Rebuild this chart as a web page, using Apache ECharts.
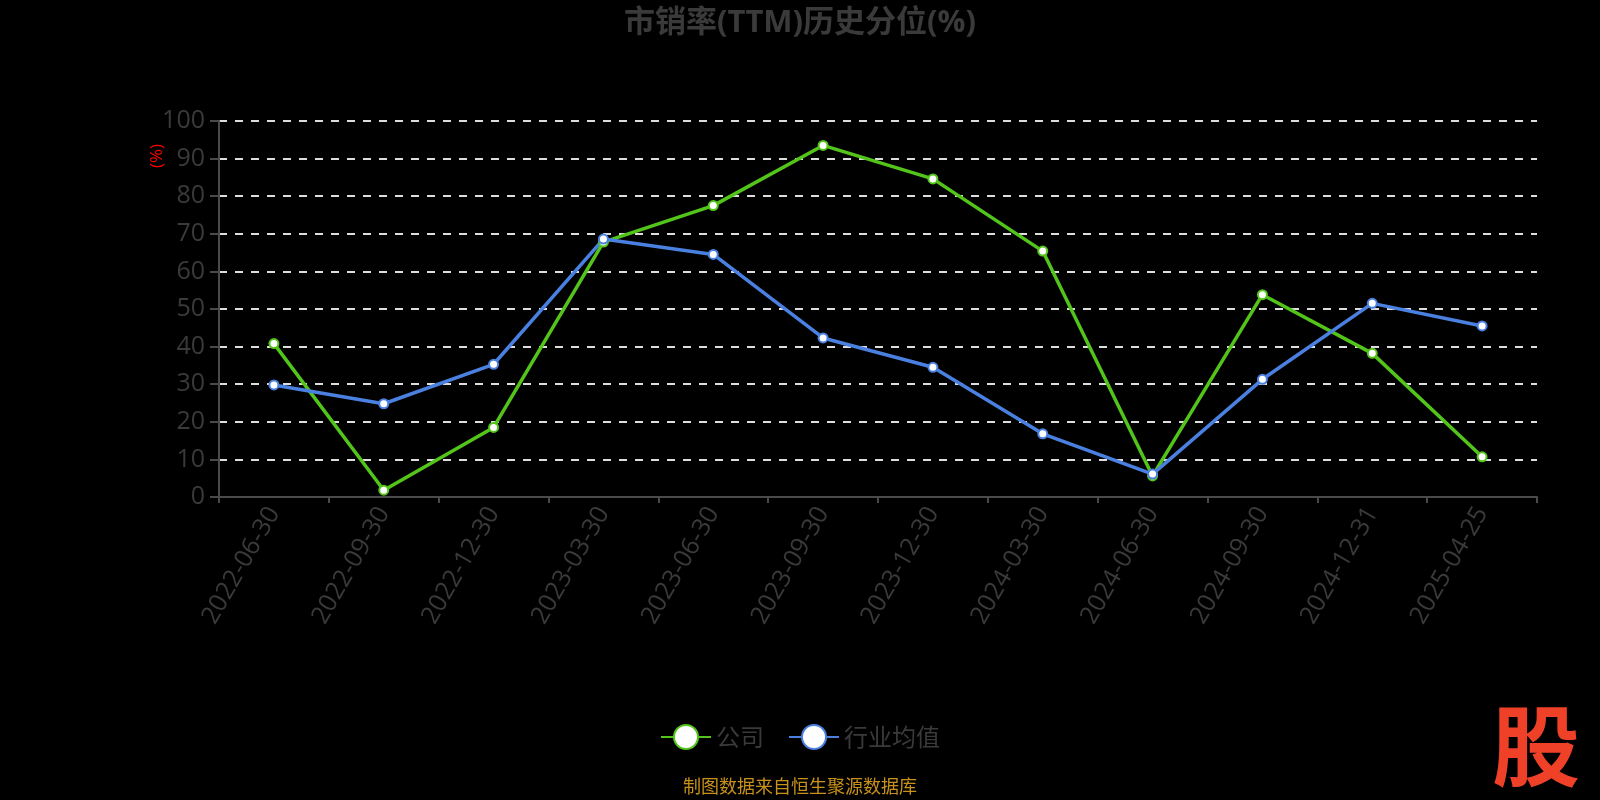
<!DOCTYPE html>
<html>
<head>
<meta charset="utf-8">
<script src="https://cdn.jsdelivr.net/npm/echarts@6/dist/echarts.min.js"></script>
<style>
html,body{margin:0;padding:0;background:#000;}
#main{width:1600px;height:800px;}
</style>
</head>
<body>
<div id="main"></div>
<script>
const categories = ['2022-06-30','2022-09-30','2022-12-30','2023-03-30','2023-06-30','2023-09-30','2023-12-30','2024-03-30','2024-06-30','2024-09-30','2024-12-31','2025-04-25'];
const companyValues = [40.8, 1.8, 18.5, 67.8, 77.5, 93.5, 84.6, 65.4, 5.6, 53.8, 38.2, 10.7];
const industryValues = [29.8, 24.8, 35.3, 68.6, 64.5, 42.3, 34.5, 16.8, 6.1, 31.3, 51.5, 45.5];
const yTicks = [0, 100, 10];
const titleText = '市销率(TTM)历史分位(%)';
const seriesNames = ['公司', '行业均值'];
const sourceText = '制图数据来自恒生聚源数据库';

const font = '"Open Sans", "Noto Sans CJK SC", sans-serif';
const cjk = '"Noto Sans CJK SC", sans-serif';
const chart = echarts.init(document.getElementById('main'));
chart.setOption({
  backgroundColor: '#000',
  animation: false,
  title: {
    text: titleText, left: 'center', top: 3,
    textStyle: {color: '#3a3a3a', fontSize: 31, fontWeight: 'bold', fontFamily: font}
  },
  legend: {
    bottom: 45, left: 'center',
    itemWidth: 50, itemHeight: 30, itemGap: 24,
    textStyle: {color: '#3a3a3a', fontSize: 24, fontFamily: cjk},
    data: seriesNames
  },
  grid: {left: 219, right: 63, top: 121, bottom: 303, containLabel: false},
  xAxis: {
    type: 'category', data: categories, boundaryGap: true,
    axisLine: {lineStyle: {color: '#4a4a4a', width: 2}},
    axisTick: {show: true, length: 6, lineStyle: {color: '#4a4a4a', width: 2}},
    axisLabel: {rotate: 60, color: '#3a3a3a', fontSize: 25, margin: 12, fontFamily: font}
  },
  yAxis: {
    type: 'value', min: yTicks[0], max: yTicks[1], interval: yTicks[2],
    axisLine: {show: true, lineStyle: {color: '#4a4a4a', width: 2}},
    axisTick: {show: true, length: 9, lineStyle: {color: '#4a4a4a', width: 2}},
    axisLabel: {color: '#3a3a3a', fontSize: 25, margin: 14, fontFamily: font},
    splitLine: {show: true, lineStyle: {color: '#dddddd', width: 2, type: [8, 8]}}
  },
  series: [
    {
      name: seriesNames[0], type: 'line', data: companyValues,
      symbol: 'circle', symbolSize: 9,
      lineStyle: {color: '#52c41a', width: 3.5},
      itemStyle: {color: '#ffffff', borderColor: '#52c41a', borderWidth: 2}
    },
    {
      name: seriesNames[1], type: 'line', data: industryValues,
      symbol: 'circle', symbolSize: 9,
      lineStyle: {color: '#4a80e0', width: 3.5},
      itemStyle: {color: '#ffffff', borderColor: '#4a80e0', borderWidth: 2}
    }
  ],
  graphic: [
    {
      type: 'text', x: 157, y: 156, rotation: Math.PI / 2,
      style: {text: '(%)', fill: '#ff0000', fontSize: 17, fontFamily: font, align: 'center', verticalAlign: 'middle'}
    },
    {
      type: 'text', left: 'center', top: 777,
      style: {text: sourceText, fill: '#c8921a', fontSize: 18, fontFamily: cjk}
    },
    {
      type: 'text', left: 1492, top: 702,
      style: {text: '股', fill: '#ee4128', fontSize: 88, fontWeight: 'bold', fontFamily: cjk}
    }
  ]
});
</script>
</body>
</html>
